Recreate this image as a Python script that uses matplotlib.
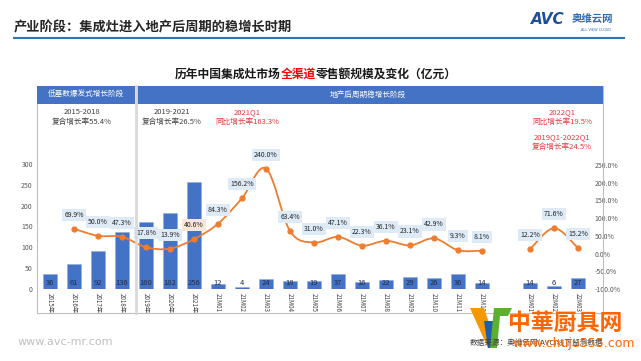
import numpy as np
import matplotlib
matplotlib.use('Agg')
import matplotlib.pyplot as plt
from matplotlib.path import Path
from matplotlib.patches import PathPatch, Rectangle, Polygon
from matplotlib.lines import Line2D

plt.rcParams['font.family'] = ['Noto Sans CJK SC', 'DejaVu Sans']

# data
categories = ['2015年', '2016年', '2017年', '2018年', '2019年', '2020年', '2021年',
              '21M01', '21M02', '21M03', '21M04', '21M05', '21M06', '21M07', '21M08',
              '21M09', '21M10', '21M11', '21M12', '', '22M01', '22M02', '22M03']
sales = [36, 61, 92, 136, 160, 182, 256, 12, 4, 24, 18, 19, 37, 16, 22, 29, 26, 36, 14,
         np.nan, 14, 6, 27]
growth = [np.nan, 69.9, 50.0, 47.3, 17.8, 13.9, 40.6, 84.3, 156.2, 240.0, 63.4, 31.0, 47.1,
          22.3, 36.1, 23.1, 42.9, 9.3, 8.1, np.nan, 12.2, 71.6, 15.2]
left_ticks = [0, 50, 100, 150, 200, 250, 300]
right_ticks = [-100, -50, 0, 50, 100, 150, 200, 250]

BLUE = '#4472C4'
ORANGE = '#ED7D31'
RED = '#E8383D'
W, H = 641, 361


def fx(px):
    return px / W


def fy(py):
    return 1 - py / H


def smooth_path(xs, ys):
    # excel-like smoothed line drawn as bezier curves through the points
    pts = list(zip(xs, ys))
    n = len(pts)
    verts = [pts[0]]
    codes = [Path.MOVETO]
    for i in range(n - 1):
        p0 = pts[i - 1] if i > 0 else pts[i]
        p1, p2 = pts[i], pts[i + 1]
        p3 = pts[i + 2] if i + 2 < n else pts[i + 1]
        c1 = (p1[0] + (p2[0] - p0[0]) / 6, p1[1] + (p2[1] - p0[1]) / 6)
        c2 = (p2[0] - (p3[0] - p1[0]) / 6, p2[1] - (p3[1] - p1[1]) / 6)
        verts += [c1, c2, p2]
        codes += [Path.CURVE4] * 3
    return Path(verts, codes)


fig = plt.figure(figsize=(6.41, 3.61), dpi=100)

# heading + logo
fig.text(fx(14), fy(27), '产业阶段：集成灶进入地产后周期的稳增长时期', fontsize=9.5,
         fontweight='bold', color='#262626', va='center')
fig.add_artist(Line2D([fx(14), fx(624)], [fy(38), fy(38)], color='#2E75B6', lw=1.5))
fig.text(fx(531), fy(20), 'AVC', fontsize=11, fontweight='bold', fontstyle='italic',
         color='#1F4E9B', va='center', family='DejaVu Sans')
fig.text(fx(572), fy(19), '奥维云网', fontsize=7.5, fontweight='bold', color='#2E6DB4', va='center')
fig.text(fx(581), fy(30), 'ALL VIEW CLOUD', fontsize=2.5, color='#2E6DB4', va='center',
         family='DejaVu Sans')

# chart title with red part
renderer = fig.canvas.get_renderer()
parts = [('历年中国集成灶市场', '#1A1A1A'), ('全渠道', '#FF0000'), ('零售额规模及变化（亿元）', '#1A1A1A')]
widths = []
for s, c in parts:
    t = fig.text(0, 0, s, fontsize=8.5, fontweight='bold')
    widths.append(t.get_window_extent(renderer).width)
    t.remove()
x0 = 316 - sum(widths) / 2
for (s, c), w in zip(parts, widths):
    fig.text(fx(x0), fy(74), s, fontsize=8.5, fontweight='bold', color=c, va='center')
    x0 += w

# table frame
fig.add_artist(Rectangle((fx(37), fy(313)), fx(603 - 37), (313 - 86) / H, fill=False,
                         ec='#BFBFBF', lw=0.8, transform=fig.transFigure))
fig.add_artist(Rectangle((fx(37), fy(104)), fx(135 - 37), 18 / H, fc=BLUE, ec='none',
                         transform=fig.transFigure))
fig.add_artist(Rectangle((fx(137), fy(104)), fx(603 - 137), 18 / H, fc=BLUE, ec='none',
                         transform=fig.transFigure))
fig.add_artist(Line2D([fx(136), fx(136)], [fy(86), fy(313)], color='#D9D9D9', lw=2))
fig.text(fx(86), fy(95), '低基数爆发式增长阶段', fontsize=5.5, color='white', ha='center', va='center')
fig.text(fx(330), fy(95), '地产后周期稳增长阶段', fontsize=5.5, color='white', va='center')

fig.text(fx(82), fy(117), '2015-2018\n复合增长率55.4%', fontsize=5.5, color='#404040',
         ha='center', va='center', linespacing=1.3)
fig.text(fx(172), fy(117), '2019-2021\n复合增长率26.5%', fontsize=5.5, color='#404040',
         ha='center', va='center', linespacing=1.3)
fig.text(fx(247), fy(117), '2021Q1\n同比增长率163.3%', fontsize=5.5, color=RED,
         ha='center', va='center', linespacing=1.3)
fig.text(fx(562), fy(117), '2022Q1\n同比增长率19.5%', fontsize=5.5, color=RED,
         ha='center', va='center', linespacing=1.3)
fig.text(fx(562), fy(142), '2019Q1-2022Q1\n复合增长率24.5%', fontsize=5.5, color=RED,
         ha='center', va='center', linespacing=1.3)

# chart
ax = fig.add_axes([fx(37), fy(289), fx(592 - 37), (289 - 143) / H])
ax2 = ax.twinx()
x = np.arange(len(categories))

ax.bar(x, sales, width=0.56, color=BLUE, edgecolor='#8FAADC', linewidth=0.4, zorder=2)
for i, v in enumerate(sales):
    if not np.isnan(v):
        ax.text(i, 15, f'{v:.0f}', ha='center', va='center', fontsize=5.5, color='#1F2D4D', zorder=3)
ax.axhline(0, color='#D9D9D9', lw=0.8, zorder=1)

ax.set_xlim(-0.54, 22.58)
ax.set_ylim(0, 350)
ax.set_yticks(left_ticks)
ax.set_yticklabels([str(t) for t in left_ticks])
ax.set_xticks(x)
ax.set_xticklabels(categories, rotation=-90, fontsize=4.5, color='#404040')
ax.tick_params(axis='y', length=0, labelsize=5, labelcolor='#595959', pad=3)
ax.tick_params(axis='x', length=0, pad=3)

ax2.set_ylim(-100, 312)
ax2.set_yticks(right_ticks)
ax2.set_yticklabels([f'{t:.1f}%' for t in right_ticks])
ax2.tick_params(axis='y', length=0, labelsize=5, labelcolor='#595959', pad=2)
for a in (ax, ax2):
    for sp in a.spines.values():
        sp.set_visible(False)

g = np.array(growth)
seg = []
for i in range(len(g) + 1):
    if i < len(g) and not np.isnan(g[i]):
        seg.append(i)
    elif seg:
        ax2.add_patch(PathPatch(smooth_path(x[seg], g[seg]), fill=False, ec=ORANGE, lw=1.3, zorder=3))
        seg = []
ax2.plot(x, g, 'o', color=ORANGE, ms=3.5, zorder=4)
for i, v in enumerate(growth):
    if np.isnan(v):
        continue
    fc = '#FBE5D6' if categories[i] == '2021年' else '#DEEBF7'
    ax2.annotate(f'{v:.1f}%', (i, v), xytext=(0, 10), textcoords='offset points',
                 ha='center', va='center', fontsize=5, color='#262626', zorder=5,
                 bbox=dict(boxstyle='square,pad=0.3', fc=fc, ec='none'))

# footer
fig.text(fx(18), fy(342), 'www.avc-mr.com', fontsize=8, color='#BFBFBF', va='center',
         family='DejaVu Sans')
fig.text(fx(470), fy(344), '数据来源：奥维云网(AVC)线下监测数据', fontsize=5.5, color='#404040', va='center')

# watermark
fig.add_artist(Polygon([(fx(470), fy(308)), (fx(484), fy(308)), (fx(497), fy(348)), (fx(488), fy(348))],
                       closed=True, fc='#F39800', ec='none', transform=fig.transFigure))
fig.add_artist(Polygon([(fx(484), fy(321)), (fx(494), fy(321)), (fx(497), fy(348)), (fx(488), fy(348))],
                       closed=True, fc='#1D5FA8', ec='none', transform=fig.transFigure))
fig.add_artist(Polygon([(fx(494), fy(308)), (fx(512), fy(308)), (fx(508), fy(316)), (fx(500), fy(316)),
                        (fx(497), fy(348)), (fx(490), fy(348))],
                       closed=True, fc='#5BB030', ec='none', transform=fig.transFigure))
fig.text(fx(508), fy(323), '中華厨具网', fontsize=16.5, fontweight='bold', color='#FF6600', va='center')
fig.text(fx(512), fy(343), 'www.chuju555.com', fontsize=9, color='#FF6600', va='center',
         family='DejaVu Sans')

fig.savefig('out.png', dpi=100)
